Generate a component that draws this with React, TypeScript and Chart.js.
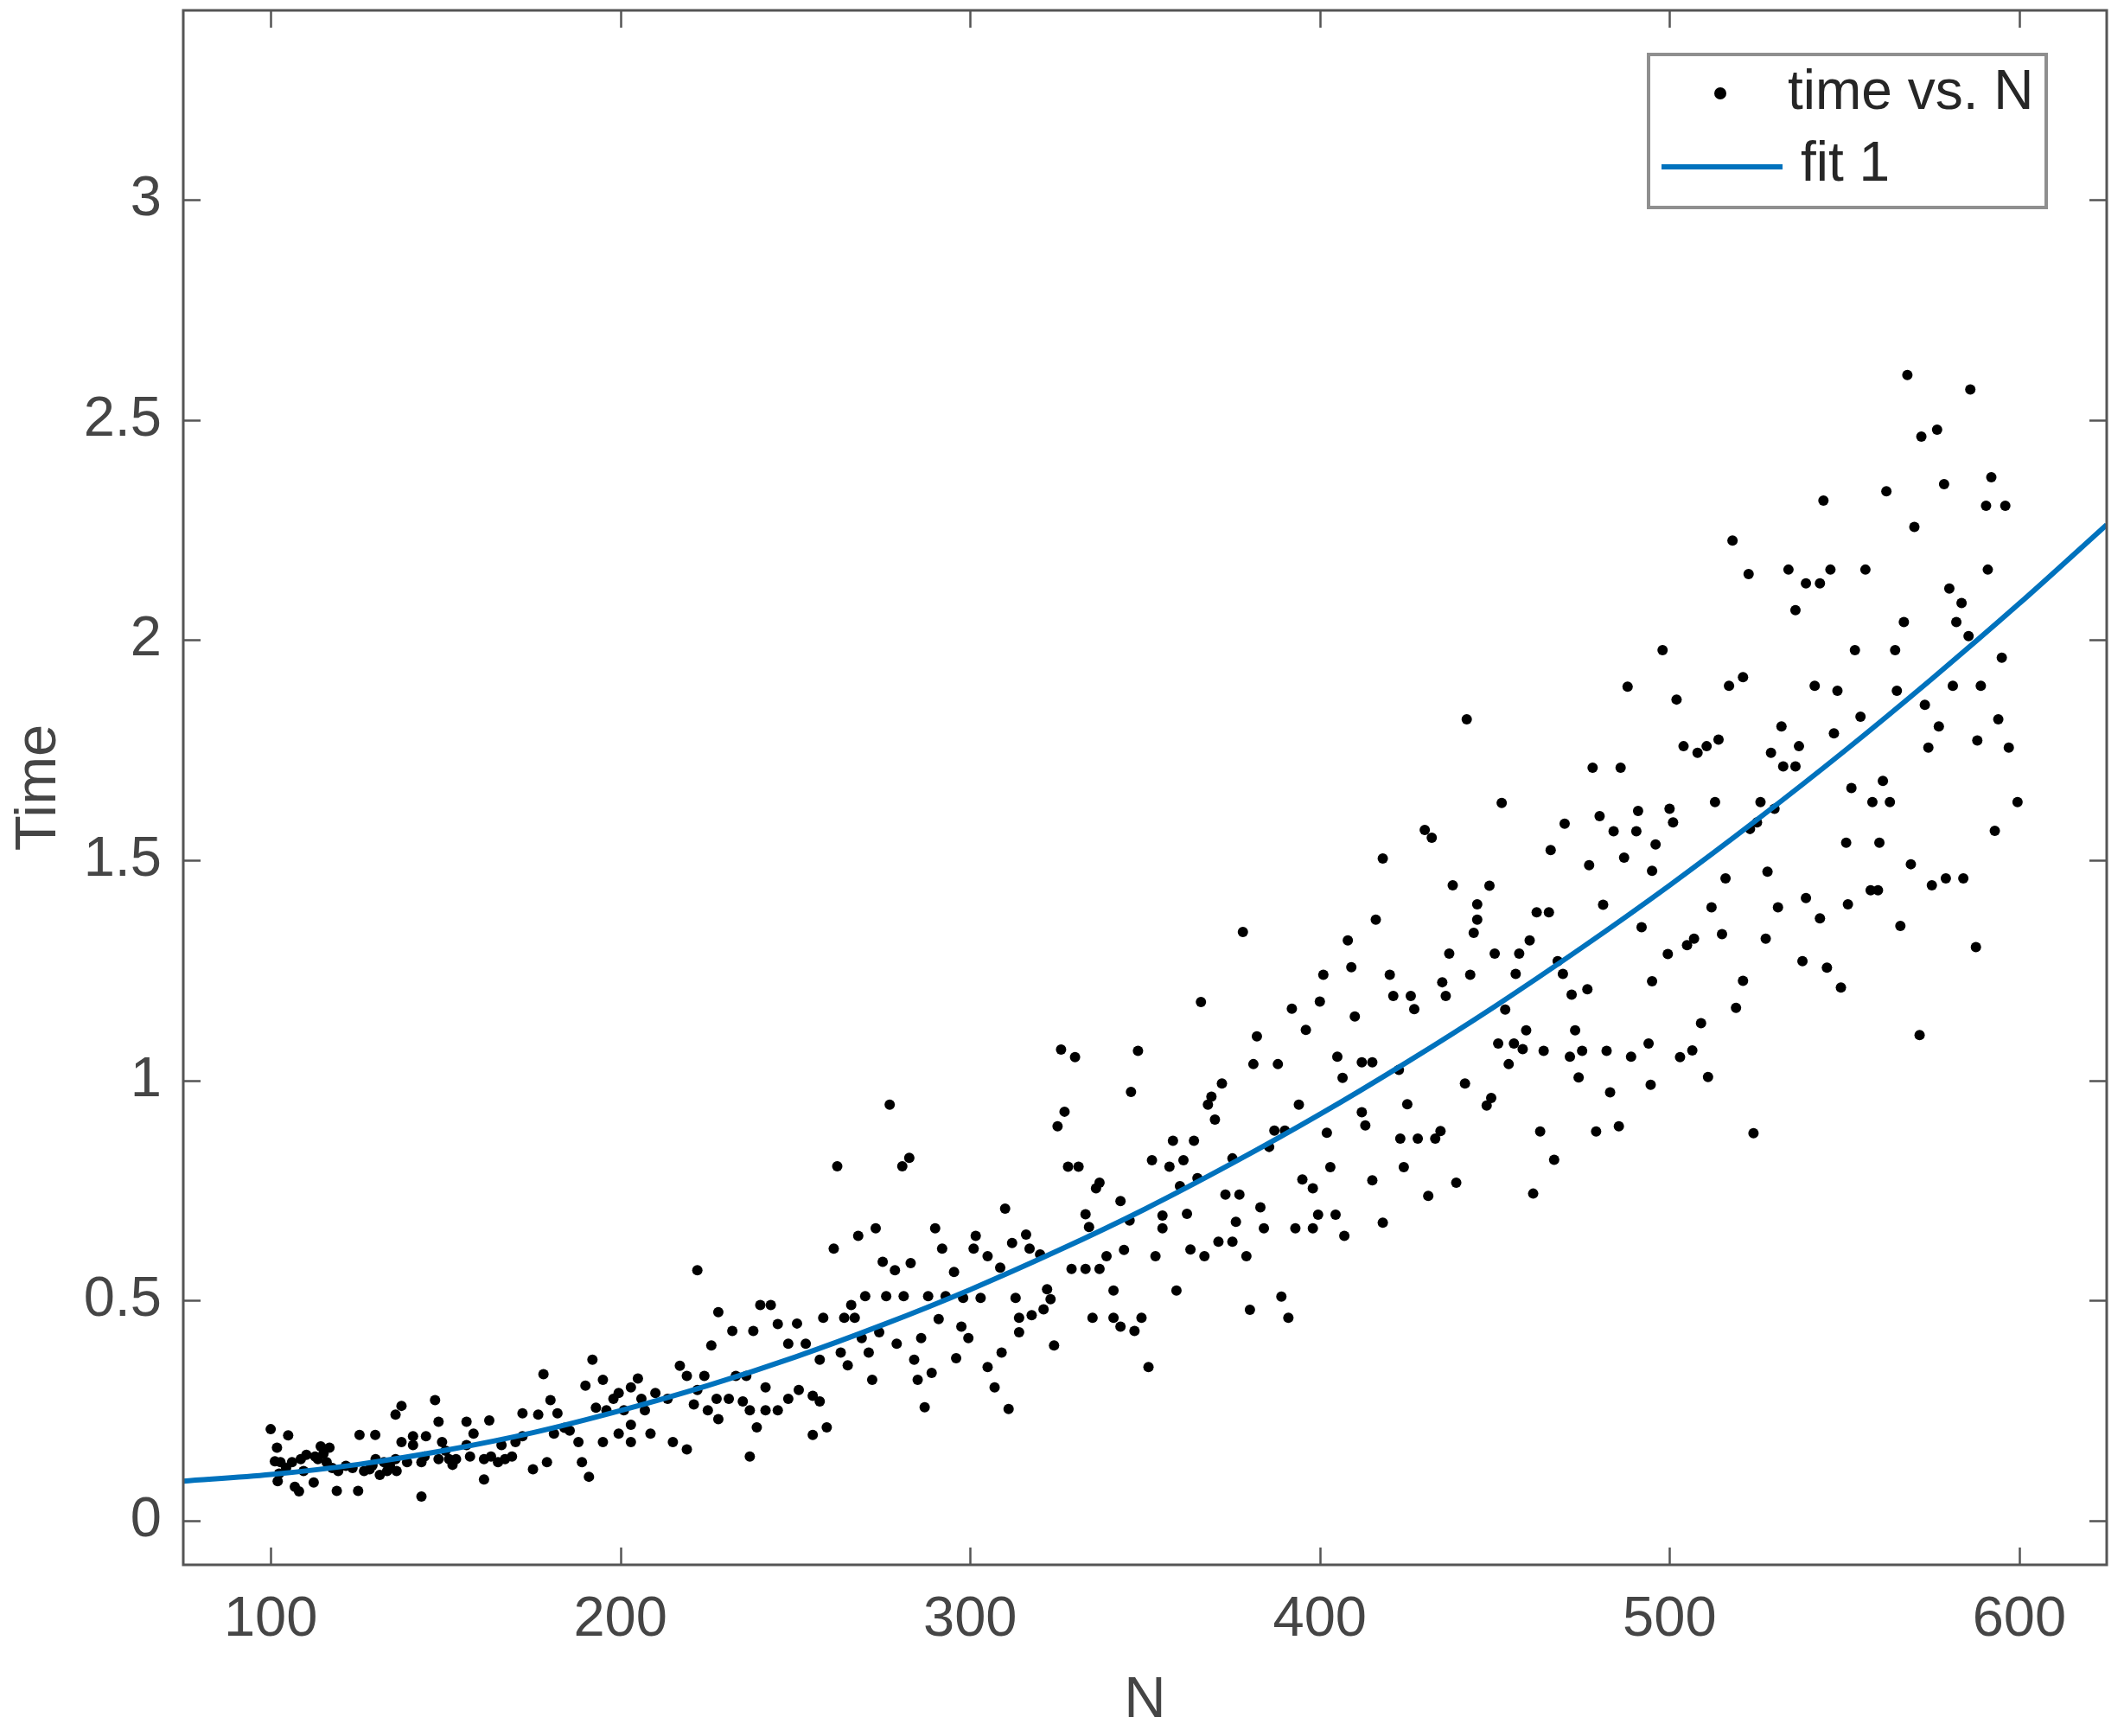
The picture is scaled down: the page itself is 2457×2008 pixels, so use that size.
import React, { useEffect, useRef } from 'react';
import { Chart, registerables } from 'chart.js';

Chart.register(...registerables);

// ---------------- data ----------------
const nValues: number[] = [
  // N 100-145
  100, 105, 101.8, 102.8, 102.4, 102, 106.9, 108.1, 112.3, 106.1,
  110.2, 114.3, 116.8, 113.5, 116, 119.3, 118.9, 125, 125.4, 129.9,
  123.4, 128.3, 131.2, 134.1, 137.4, 135.7, 137.4, 140.7, 144.4, 139,
  143.1, 143.1, 130, 109.4, 133.3, 101.2, 104.4, 108.6, 112.7, 115.1,
  117.6, 121.5, 126.7, 129.1, 132.4, 135.7, 136, 140.7, 144,
  // N 145-195
  147, 148, 149, 148, 156, 153, 152, 162.5, 158, 161,
  161, 166, 165, 169, 170, 172, 176.5, 178, 180, 182,
  179, 175, 181, 185.5, 188, 189, 191, 190, 192, 195,
  193, 195, 163, 156, 150, 151, 157, 167, 172, 184,
  // N 195-245
  222, 228, 240, 243, 232, 238, 245, 226, 217, 219,
  224, 199.5, 203, 198, 210, 213.5, 221, 225, 228, 231,
  235, 233, 241.5, 241.5, 245, 239, 237, 207, 203, 199.5,
  203, 208.6, 215, 219, 236, 206, 196, 201, 222, 227.5,
  237, 205,
  // N 245-295
  277, 262, 280.6, 282.6, 268, 273, 290, 261, 275, 278.5,
  283, 292, 270, 276, 281, 288, 293, 266, 258, 264,
  267, 250.5, 248, 253, 269, 274, 257, 263, 265, 271,
  279, 286, 291, 284, 272, 285, 289, 287, 251, 248,
  255, 255, 259, 257,
  // N 295-345
  326, 330, 327, 325, 328, 331, 337, 336, 343, 333,
  334, 310, 301.6, 301, 305, 308.6, 312, 316, 317, 320,
  295.4, 344, 339, 329, 333, 337, 298, 303, 313, 322,
  323, 321, 317.6, 314, 314, 341, 335, 341, 343, 297.5,
  299.5, 324, 296, 309, 305, 307, 311,
  // N 345-395
  378, 366, 392, 396, 382, 381, 388, 348, 346, 372,
  369, 368, 370, 394, 387, 390, 385.5, 358, 364, 352,
  357, 361, 375, 365, 360, 395, 373, 377, 383, 355,
  355, 362, 376, 384, 393, 345.6, 353, 363, 367, 371,
  375, 379, 359, 389, 380, 391, 349, 347, 351,
  // N 395-445
  442, 430, 432, 418, 438, 445, 445, 444, 416, 408,
  409, 401, 437, 420, 421, 426, 427, 435, 436, 443,
  400, 410, 405, 406.5, 412, 415, 422.6, 441.5, 425, 412,
  413, 402, 423, 428, 433, 434.5, 403, 424, 398, 415,
  439, 431, 399.5, 398, 404.5, 418, 407,
  // N 445-495
  488, 478, 486, 452, 470, 480, 484, 490.5, 491, 466,
  477, 487, 496, 495, 448.5, 481, 462, 465.5, 492, 460,
  457, 450, 468, 469.5, 456, 472, 476.5, 495, 453, 459,
  473, 451, 455.5, 458, 464, 471.5, 475, 482, 489, 494,
  454, 474, 483, 494.6, 447.7, 449, 463, 479, 485.5, 467,
  461,
  // N 495-545
  544, 518, 522.6, 534, 539, 543, 536, 498, 517, 521,
  502, 541.5, 532, 504, 508, 510.6, 514, 529, 532.5, 536,
  537, 500, 501, 513, 526, 530, 523, 525, 516, 528,
  512, 531, 539, 543, 515, 527.5, 499.5, 505, 507, 521,
  538, 545, 519, 509, 503, 506.5, 511, 524,
  // N 545-600
  568, 586, 572, 576.5, 562, 578.5, 592, 590.5, 596, 570,
  546, 556, 591, 580, 583.5, 567, 582, 585.5, 553, 564.5,
  595, 548, 565, 581, 589, 573, 554.6, 547, 577, 594,
  574, 588, 597, 552, 561, 558, 563, 599.5, 593, 550.5,
  560, 569, 575, 579, 584, 557.5, 559.6, 551, 566, 587.6,
  549, 571.5,
];

const timeValues: number[] = [
  // N 100-145
  0.208, 0.194, 0.166, 0.133, 0.107, 0.09, 0.077, 0.067, 0.087, 0.133,
  0.15, 0.169, 0.166, 0.14, 0.133, 0.113, 0.068, 0.068, 0.195, 0.195,
  0.12, 0.117, 0.104, 0.126, 0.261, 0.241, 0.179, 0.192, 0.192, 0.133,
  0.133, 0.055, 0.14, 0.113, 0.113, 0.135, 0.12, 0.14, 0.146, 0.153,
  0.12, 0.125, 0.113, 0.126, 0.133, 0.14, 0.113, 0.172, 0.146,
  // N 145-195
  0.274, 0.225, 0.179, 0.14, 0.225, 0.14, 0.127, 0.228, 0.198, 0.14,
  0.094, 0.172, 0.133, 0.146, 0.179, 0.244, 0.241, 0.333, 0.274, 0.244,
  0.133, 0.117, 0.198, 0.205, 0.179, 0.133, 0.1, 0.307, 0.366, 0.32,
  0.257, 0.179, 0.146, 0.172, 0.159, 0.14, 0.146, 0.14, 0.192, 0.211,
  // N 195-245
  0.569, 0.474, 0.49, 0.49, 0.431, 0.431, 0.447, 0.398, 0.352, 0.329,
  0.329, 0.29, 0.303, 0.277, 0.29, 0.277, 0.264, 0.251, 0.231, 0.277,
  0.271, 0.329, 0.303, 0.251, 0.251, 0.212, 0.146, 0.251, 0.218, 0.198,
  0.179, 0.198, 0.179, 0.162, 0.329, 0.277, 0.251, 0.251, 0.297, 0.277,
  0.251, 0.323,
  // N 245-295
  0.945, 0.805, 0.805, 0.824, 0.647, 0.664, 0.664, 0.618, 0.588, 0.569,
  0.585, 0.618, 0.51, 0.51, 0.51, 0.51, 0.51, 0.49, 0.461, 0.461,
  0.461, 0.448, 0.402, 0.402, 0.415, 0.428, 0.366, 0.382, 0.353, 0.382,
  0.402, 0.415, 0.458, 0.366, 0.32, 0.32, 0.336, 0.258, 0.297, 0.277,
  0.284, 0.195, 0.212, 0.271,
  // N 295-345
  1.07, 1.053, 0.929, 0.896, 0.804, 0.804, 0.768, 0.755, 0.726, 0.696,
  0.667, 0.709, 0.647, 0.618, 0.601, 0.575, 0.631, 0.65, 0.618, 0.605,
  0.565, 0.615, 0.601, 0.572, 0.572, 0.572, 0.506, 0.506, 0.506, 0.526,
  0.503, 0.48, 0.467, 0.461, 0.428, 0.523, 0.461, 0.461, 0.441, 0.441,
  0.415, 0.398, 0.369, 0.382, 0.349, 0.303, 0.254,
  // N 345-395
  1.337, 1.178, 1.163, 1.115, 1.1, 1.037, 1.037, 1.067, 0.974, 0.993,
  0.963, 0.945, 0.911, 0.945, 0.886, 0.886, 0.849, 0.863, 0.863, 0.819,
  0.804, 0.819, 0.823, 0.778, 0.76, 0.775, 0.741, 0.741, 0.712, 0.693,
  0.664, 0.697, 0.679, 0.664, 0.664, 0.682, 0.601, 0.616, 0.601, 0.634,
  0.634, 0.601, 0.523, 0.509, 0.479, 0.461, 0.461, 0.431, 0.349,
  // N 395-445
  1.82, 1.569, 1.551, 1.504, 1.443, 1.4, 1.365, 1.335, 1.365, 1.318,
  1.257, 1.24, 1.288, 1.24, 1.192, 1.192, 1.162, 1.223, 1.192, 1.24,
  1.179, 1.145, 1.054, 1.006, 1.041, 1.041, 1.024, 0.993, 0.946, 0.928,
  0.898, 0.881, 0.868, 0.868, 0.868, 0.885, 0.803, 0.803, 0.755, 0.773,
  0.768, 0.738, 0.695, 0.664, 0.695, 0.677, 0.647,
  // N 445-495
  1.894, 1.71, 1.71, 1.63, 1.583, 1.6, 1.566, 1.566, 1.612, 1.523,
  1.489, 1.506, 1.536, 1.476, 1.442, 1.399, 1.382, 1.382, 1.348, 1.318,
  1.288, 1.288, 1.271, 1.242, 1.242, 1.195, 1.207, 1.225, 1.161, 1.114,
  1.114, 1.084, 1.084, 1.071, 1.067, 1.054, 1.067, 1.067, 1.054, 1.084,
  1.037, 1.007, 0.973, 0.99, 0.943, 0.96, 0.884, 0.884, 0.896, 0.82,
  0.743,
  // N 495-545
  2.317, 2.226, 2.15, 2.16, 2.129, 2.129, 2.068, 1.977, 1.896, 1.916,
  1.865, 1.896, 1.804, 1.759, 1.744, 1.759, 1.774, 1.744, 1.713, 1.713,
  1.759, 1.617, 1.586, 1.632, 1.632, 1.617, 1.571, 1.586, 1.459, 1.474,
  1.393, 1.393, 1.414, 1.368, 1.332, 1.322, 1.287, 1.307, 1.322, 1.226,
  1.271, 1.256, 1.165, 1.13, 1.053, 1.068, 1.008, 0.88,
  // N 545-600
  2.602, 2.569, 2.462, 2.478, 2.338, 2.354, 2.37, 2.305, 2.305, 2.257,
  2.16, 2.16, 2.16, 2.117, 2.084, 2.041, 2.041, 2.009, 1.977, 1.977,
  1.96, 1.885, 1.885, 1.896, 1.896, 1.853, 1.826, 1.788, 1.804, 1.82,
  1.756, 1.772, 1.756, 1.664, 1.68, 1.632, 1.632, 1.632, 1.567, 1.54,
  1.54, 1.491, 1.443, 1.459, 1.459, 1.432, 1.432, 1.4, 1.351, 1.303,
  1.211, 1.103,
];

// fitted curve
const fitN: number[] = [75, 100, 125, 150, 175, 200, 225, 250, 275, 300, 325, 350, 375, 400, 425, 450, 475, 500, 525, 550, 575, 600, 625];
const fitTime: number[] = [0.09, 0.105, 0.128, 0.16, 0.2, 0.25, 0.307, 0.372, 0.445, 0.525, 0.613, 0.708, 0.812, 0.923, 1.042, 1.168, 1.302, 1.443, 1.592, 1.748, 1.912, 2.083, 2.262];

const xTickValues: number[] = [100, 200, 300, 400, 500, 600];
const xTickLabels: string[] = ['100', '200', '300', '400', '500', '600'];
const yTickValues: number[] = [0, 0.5, 1, 1.5, 2, 2.5, 3];
const yTickLabels: string[] = ['0', '0.5', '1', '1.5', '2', '2.5', '3'];

const seriesLabel = 'time vs. N';
const fitLabel = 'fit 1';
const xTitle = 'N';
const yTitle = 'Time';

// ---------------- styles ----------------
const W = 2457;
const H = 2008;
const FONT = "'Liberation Sans', Arial, Helvetica, sans-serif";
const LABEL_COLOR = '#454545';
const AXIS_COLOR = '#555555';
const FIT_COLOR = '#0072BD';
const TICK_LEN = 20;

const framePlugin = {
  id: 'matlabFrame',
  afterDatasetsDraw(chart: any) {
    const { ctx, chartArea } = chart;
    const { left, right, top, bottom } = chartArea;
    const xs = chart.scales.x;
    const ys = chart.scales.y;
    ctx.save();
    ctx.strokeStyle = AXIS_COLOR;
    ctx.lineWidth = 2.5;
    ctx.beginPath();
    xTickValues.forEach((v) => {
      const px = Math.round(xs.getPixelForValue(v)) + 0.5;
      ctx.moveTo(px, bottom);
      ctx.lineTo(px, bottom - TICK_LEN);
      ctx.moveTo(px, top);
      ctx.lineTo(px, top + TICK_LEN);
    });
    yTickValues.forEach((v) => {
      const py = Math.round(ys.getPixelForValue(v)) + 0.5;
      ctx.moveTo(left, py);
      ctx.lineTo(left + TICK_LEN, py);
      ctx.moveTo(right, py);
      ctx.lineTo(right - TICK_LEN, py);
    });
    ctx.stroke();
    ctx.lineWidth = 3;
    ctx.strokeRect(left, top, right - left, bottom - top);
    ctx.restore();
  },
};

const legendPlugin = {
  id: 'matlabLegend',
  afterDraw(chart: any) {
    const { ctx, chartArea } = chart;
    const ds = chart.data.datasets;
    const bx = chartArea.right - 530;
    const by = chartArea.top + 51;
    const bw = 460;
    const bh = 177;
    ctx.save();
    ctx.fillStyle = '#ffffff';
    ctx.fillRect(bx, by, bw, bh);
    ctx.strokeStyle = '#8f8f8f';
    ctx.lineWidth = 4;
    ctx.strokeRect(bx, by, bw, bh);

    // entry 1: dot
    ctx.fillStyle = '#000000';
    ctx.beginPath();
    ctx.arc(bx + 83, by + 45, 7, 0, Math.PI * 2);
    ctx.fill();
    // entry 2: line
    ctx.strokeStyle = FIT_COLOR;
    ctx.lineWidth = 6;
    ctx.beginPath();
    ctx.moveTo(bx + 15, by + 130);
    ctx.lineTo(bx + 155, by + 130);
    ctx.stroke();

    ctx.fillStyle = '#262626';
    ctx.font = `64px ${FONT}`;
    ctx.textBaseline = 'middle';
    ctx.textAlign = 'left';
    ctx.fillText(ds[1].label, bx + 161, by + 45);
    ctx.fillText(ds[0].label, bx + 176, by + 128);
    ctx.restore();
  },
};

export default function App() {
  const ref = useRef<HTMLCanvasElement | null>(null);

  useEffect(() => {
    document.body.style.margin = '0';
    document.body.style.overflow = 'hidden';
    const canvas = ref.current;
    if (!canvas) return;
    const count = Math.min(nValues.length, timeValues.length);
    const scatterData = [];
    for (let i = 0; i < count; i++) scatterData.push({ x: nValues[i], y: timeValues[i] });
    const fitData = fitN.map((n, i) => ({ x: n, y: fitTime[i] }));

    const chart = new Chart(canvas, {
      type: 'scatter',
      data: {
        datasets: [
          {
            label: fitLabel,
            data: fitData,
            showLine: true,
            borderColor: FIT_COLOR,
            borderWidth: 6,
            pointRadius: 0,
            pointHoverRadius: 0,
            cubicInterpolationMode: 'monotone',
            fill: false,
            order: 0,
          } as any,
          {
            label: seriesLabel,
            data: scatterData,
            backgroundColor: '#000000',
            borderWidth: 0,
            pointRadius: 6,
            pointHoverRadius: 6,
            order: 1,
          } as any,
        ],
      },
      options: {
        responsive: false,
        maintainAspectRatio: false,
        devicePixelRatio: 1,
        animation: false,
        layout: { padding: { left: 0, top: 12, right: 20, bottom: 0 } },
        plugins: {
          legend: { display: false },
          tooltip: { enabled: false },
          title: { display: false },
        },
        events: [],
        scales: {
          x: {
            type: 'linear',
            position: 'bottom',
            min: 75,
            max: 625,
            grid: { display: false, drawTicks: false },
            border: { display: false },
            afterBuildTicks: (axis: any) => {
              axis.ticks = xTickValues.map((v) => ({ value: v }));
            },
            afterFit: (scale: any) => {
              scale.height = 198;
              scale.paddingLeft = 0;
              scale.paddingRight = 0;
              scale.paddingTop = 0;
              scale.paddingBottom = 0;
            },
            ticks: {
              autoSkip: false,
              maxRotation: 0,
              padding: 25,
              color: LABEL_COLOR,
              font: { family: FONT, size: 65 },
              callback: (_v: any, i: number) => xTickLabels[i],
            },
            title: {
              display: true,
              text: xTitle,
              color: LABEL_COLOR,
              font: { family: FONT, size: 67 },
              padding: { top: 0, bottom: 0 },
            },
          },
          y: {
            type: 'linear',
            position: 'left',
            min: -0.1,
            max: 3.43,
            grid: { display: false, drawTicks: false },
            border: { display: false },
            afterBuildTicks: (axis: any) => {
              axis.ticks = yTickValues.map((v) => ({ value: v }));
            },
            afterFit: (scale: any) => {
              scale.width = 212;
              scale.paddingLeft = 0;
              scale.paddingRight = 0;
              scale.paddingTop = 0;
              scale.paddingBottom = 0;
            },
            ticks: {
              autoSkip: false,
              padding: 25,
              color: LABEL_COLOR,
              font: { family: FONT, size: 65 },
              callback: (_v: any, i: number) => yTickLabels[i],
            },
            title: {
              display: true,
              text: yTitle,
              color: LABEL_COLOR,
              font: { family: FONT, size: 67 },
              padding: { top: 5, bottom: 0 },
            },
          },
        },
      } as any,
      plugins: [framePlugin, legendPlugin],
    });

    return () => chart.destroy();
  }, []);

  return (
    <div style={{ width: W, height: H, background: '#ffffff' }}>
      <canvas ref={ref} width={W} height={H} style={{ display: 'block', width: W, height: H }} />
    </div>
  );
}
